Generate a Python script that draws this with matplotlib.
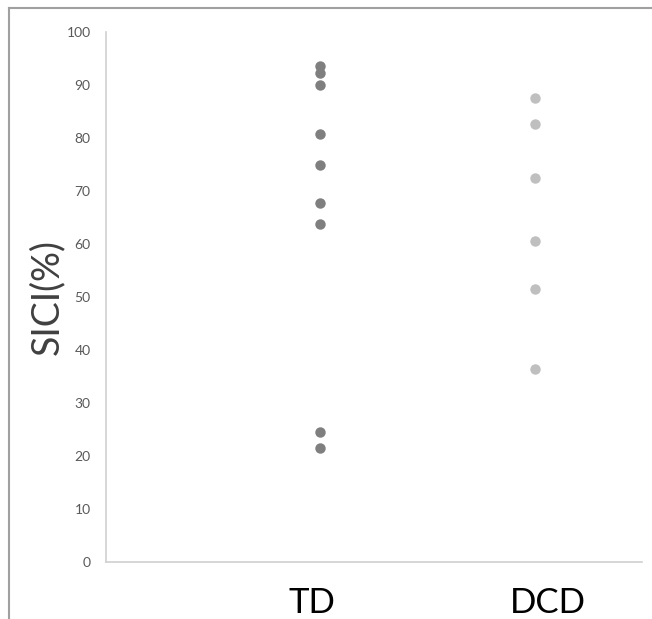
import matplotlib.pyplot as plt
from matplotlib.lines import Line2D

groups = ["TD", "DCD"]
group_x = [1, 2]
td_values = [93.6, 92.3, 90.0, 80.7, 74.9, 67.8, 63.8, 24.5, 21.6]
dcd_values = [87.5, 82.6, 72.5, 60.6, 51.6, 36.5]
yticks = list(range(0, 101, 10))

plt.rcParams['font.family'] = ['Lato', 'DejaVu Sans']

fig = plt.figure(figsize=(6.52, 6.19), dpi=100)
ax = fig.add_axes([106 / 652, 1 - 562 / 619, 536 / 652, 530 / 619])

ax.plot([group_x[0]] * len(td_values), td_values, 'o', color='#7f7f7f',
        markersize=7.5, markeredgewidth=0)
ax.plot([group_x[1]] * len(dcd_values), dcd_values, 'o', color='#bfbfbf',
        markersize=7.5, markeredgewidth=0)

ax.set_xlim(0, 2.5)
ax.set_ylim(0, 100)
ax.set_yticks(yticks)
ax.set_xticks([])
ax.tick_params(axis='y', length=0, pad=11, labelsize=10, labelcolor='#595959')
for side in ['top', 'right']:
    ax.spines[side].set_visible(False)
for side in ['left', 'bottom']:
    ax.spines[side].set_color('#d0d0d0')
    ax.spines[side].set_linewidth(1.2)

ax.set_ylabel('SICI(%)', fontsize=27, color='#404040', labelpad=1)

# category names sit below the axis as large text boxes
for gx, name, dx in zip(group_x, groups, [-0.04, 0.06]):
    ax.text(gx + dx, -7.7, name, ha='center', va='center', fontsize=25,
            color='black', transform=ax.transData, clip_on=False)

# outer frame (top and left edges visible)
fig.add_artist(Line2D([8.5 / 652, 8.5 / 652], [0, 1 - 7.5 / 619],
                      transform=fig.transFigure, color='#a0a0a0', lw=1.5))
fig.add_artist(Line2D([8.5 / 652, 1], [1 - 7.5 / 619, 1 - 7.5 / 619],
                      transform=fig.transFigure, color='#a0a0a0', lw=1.5))

fig.savefig('out.png', dpi=100)
